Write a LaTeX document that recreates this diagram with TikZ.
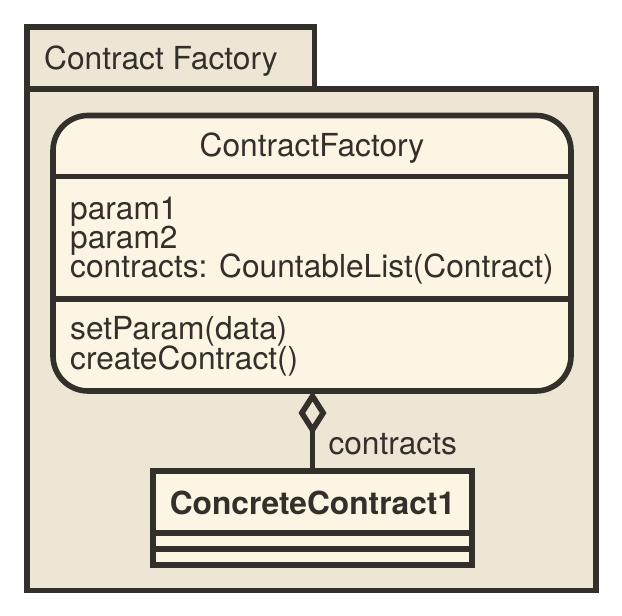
\documentclass[tikz,border=0pt]{standalone}
\usepackage{fontspec}
\setmainfont{TeX Gyre Heros}
\usetikzlibrary{calc, positioning, arrows.meta}
\definecolor{umlink}{HTML}{33302B}
\definecolor{umlpkg}{HTML}{EDE6D4}
\definecolor{umlcls}{HTML}{FCF5E3}
\newcommand{\umlfont}{\fontsize{31.7}{38}\selectfont}
\tikzset{basic/.style={draw=umlink, line width=5.6pt, outer sep=0pt, inner sep=0pt}}
\tikzset{package/.style={basic, rectangle, fill=umlpkg}}
\tikzset{umlclass/.style={basic, rectangle, fill=umlcls}}
\tikzset{member/.style={anchor=base west, inner sep=0pt, text=umlink}}
\tikzset{title/.style={anchor=base, inner sep=0pt, text=umlink}}
\tikzset{font=\umlfont}

\begin{document}
\begin{tikzpicture}[x=1pt, y=1pt]
    \useasboundingbox (0,0) rectangle (622,616);

    \node[package, minimum width=569pt, minimum height=501.5pt] (pkg) at (311.5,276.25) {};
    \node[package, anchor=south west, minimum width=287.5pt, minimum height=62pt] (tab) at (pkg.north west) {};
    \node[member] (pkgname) at ($(pkg.north west)+(17,19)$) {Contract Factory};

    \node[umlclass, rounded corners=35pt, minimum width=518pt, minimum height=275.5pt] (cf) at (312,362.75) {};
    \node[title] (cfname) at ($(cf.north)+(0,-41.5)$) {ContractFactory};
    \draw[basic] ($(cf.north west)+(0,-61)$) -- ($(cf.north east)+(0,-61)$);
    \node[member] (p1) at ($(cf.north west)+(17,-104.5)$) {param1};
    \node[member] (p2) at ($(cf.north west)+(17,-133.5)$) {param2};
    \node[member] (p3) at ($(cf.north west)+(17,-162.5)$) {contracts: CountableList(Contract)};
    \draw[basic] ($(cf.north west)+(0,-183.5)$) -- ($(cf.north east)+(0,-183.5)$);
    \node[member] (m1) at ($(cf.north west)+(17,-224.5)$) {setParam(data)};
    \node[member] (m2) at ($(cf.north west)+(17,-254.5)$) {createContract()};

    \node[umlclass, minimum width=319.5pt, minimum height=94pt] (cc) at (312.5,98) {};
    \node[title, font=\umlfont\bfseries] (ccname) at ($(cc.north)+(0,-44)$) {ConcreteContract1};
    \draw[basic] ($(cc.south west)+(0,32)$) -- ($(cc.south east)+(0,32)$);
    \draw[basic] ($(cc.south west)+(0,16)$) -- ($(cc.south east)+(0,16)$);

    \draw[basic, -{Diamond[open, length=44pt, width=28pt]}] (cc.north) -- (cc.north |- cf.south)
        node[member, pos=0.2, xshift=16pt] (role) {contracts};

\end{tikzpicture}
\end{document}
